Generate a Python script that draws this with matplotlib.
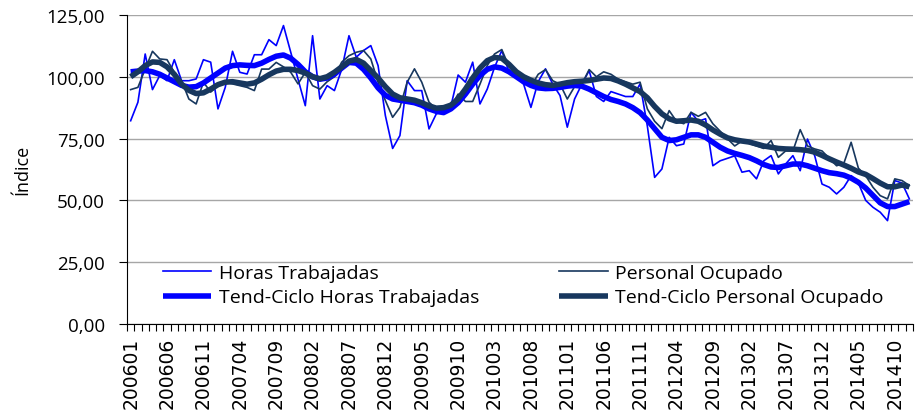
import matplotlib
matplotlib.use("Agg")
import matplotlib.pyplot as plt
from matplotlib.ticker import FixedLocator, FuncFormatter

# monthly periods 200601 .. 201412
periods = [f"{y}{m:02d}" for y in range(2006, 2015) for m in range(1, 13)]

horas = [82.2, 89.7, 109.2, 94.8, 100.5, 98.4, 106.9, 98.4, 98.4, 99.1,
         106.9, 105.9, 87.0, 95.7, 110.3, 101.8, 101.1, 108.9, 108.9, 115.0,
         112.6, 120.7, 109.9, 99.0, 88.3, 116.6, 91.0, 96.4, 94.4, 103.0,
         116.6, 107.9, 110.6, 112.6, 104.5, 84.3, 71.0, 76.2, 98.4, 94.4,
         94.4, 78.9, 85.0, 86.0, 88.0, 100.7, 97.8, 105.9, 89.0, 95.0,
         103.8, 110.6, 101.8, 100.0, 97.0, 87.6, 98.0, 103.2, 97.0, 92.4,
         79.6, 91.0, 97.0, 102.5, 92.0, 90.0, 94.0, 93.0, 92.0, 92.0,
         97.1, 80.0, 59.3, 62.7, 75.5, 72.1, 72.8, 85.6, 82.0, 83.0,
         64.0, 66.0, 67.0, 68.0, 61.4, 62.0, 58.7, 66.0, 68.1, 60.7,
         64.7, 68.1, 62.0, 74.8, 68.0, 56.6, 55.3, 52.6, 55.3, 60.0,
         57.0, 50.0, 47.2, 45.2, 41.8, 58.0, 57.0, 50.6]

personal = [94.8, 95.7, 103.1, 110.3, 107.2, 106.9, 101.8, 98.4, 91.0, 89.0,
            97.8, 93.8, 96.4, 97.8, 97.1, 96.4, 95.7, 94.4, 103.1, 103.1,
            105.8, 104.0, 101.8, 97.1, 101.8, 96.4, 95.0, 98.0, 100.0, 105.9,
            108.5, 109.9, 110.6, 107.2, 97.8, 90.4, 83.6, 87.6, 97.8, 103.2,
            97.8, 89.7, 87.0, 87.0, 88.0, 93.0, 90.0, 90.0, 97.0, 104.5,
            109.2, 111.0, 104.0, 102.0, 98.4, 96.0, 101.0, 102.9, 98.4, 97.0,
            91.0, 96.0, 97.0, 102.9, 100.0, 102.0, 101.0, 99.0, 98.0, 97.0,
            97.8, 87.0, 82.0, 79.0, 86.3, 82.0, 81.0, 85.6, 84.0, 85.6,
            81.0, 78.0, 75.0, 72.0, 74.0, 73.0, 72.0, 71.0, 74.2, 67.4,
            70.0, 70.0, 78.6, 72.0, 70.8, 70.0, 67.0, 64.0, 65.0, 73.5,
            63.0, 60.0, 55.3, 51.9, 50.6, 58.7, 58.0, 56.0]

tc_horas = [102.0, 102.3, 102.5, 102.0, 101.0, 99.5, 98.0, 96.5, 95.8, 96.0,
            97.5, 99.5, 101.5, 103.5, 104.5, 104.8, 104.6, 104.5, 105.5, 107.0,
            108.3, 108.8, 107.5, 105.0, 102.0, 100.0, 99.0, 99.5, 101.0, 103.5,
            105.8, 105.5, 103.0, 99.5, 95.5, 92.5, 91.0, 90.5, 90.0, 89.5,
            88.5, 87.0, 86.0, 85.5, 87.0, 89.5, 93.0, 97.0, 100.5, 103.0,
            104.0, 103.5, 102.0, 100.0, 98.0, 96.5, 95.5, 95.2, 95.3, 95.7,
            96.2, 96.5, 96.2, 95.0, 93.5, 92.0, 90.8, 90.0, 89.0, 87.5,
            85.5, 82.5, 79.0, 75.5, 74.2, 74.5, 75.5, 76.5, 76.5, 75.5,
            73.5, 71.5, 70.0, 69.0, 68.2, 67.3, 66.0, 64.5, 63.5, 63.3,
            64.0, 64.7, 64.7, 64.0, 63.0, 62.0, 61.2, 60.8, 60.2, 59.0,
            57.3, 55.0, 52.0, 49.0, 47.5, 47.5, 48.5, 49.5]

tc_personal = [100.0, 102.0, 104.5, 106.0, 105.8, 104.0, 101.0, 97.0, 94.5, 93.2,
               93.5, 95.0, 96.8, 97.8, 98.0, 97.5, 97.0, 97.5, 99.0, 100.8,
               102.3, 103.0, 103.0, 102.5, 101.5, 100.0, 99.2, 100.0, 101.8, 104.0,
               106.3, 107.0, 105.5, 102.5, 99.5, 96.0, 93.0, 91.5, 91.0, 90.5,
               89.5, 88.2, 87.3, 87.5, 88.5, 91.0, 95.0, 99.5, 103.5, 106.5,
               107.8, 107.5, 105.0, 102.0, 100.0, 98.6, 97.5, 96.8, 96.5, 97.0,
               97.6, 98.0, 98.2, 98.5, 99.0, 99.5, 99.3, 98.3, 97.0, 95.5,
               94.0, 91.5, 88.0, 85.0, 83.0, 82.0, 82.2, 82.5, 82.0, 80.5,
               78.5, 76.8, 75.3, 74.5, 74.0, 73.6, 72.8, 72.0, 71.5, 71.0,
               70.8, 70.7, 70.5, 70.2, 69.5, 68.2, 66.8, 65.5, 64.3, 63.0,
               61.5, 60.5, 58.8, 57.0, 55.5, 55.5, 56.2, 55.5]

BLUE = "#0000FF"
NAVY = "#17375E"

fig = plt.figure(figsize=(9.15, 4.14), dpi=100)
ax = fig.add_axes([0.1388, 0.215, 0.859, 0.7465])

x = list(range(len(periods)))
l1, = ax.plot(x, horas, color=BLUE, lw=1.2, label="Horas Trabajadas")
l2, = ax.plot(x, personal, color=NAVY, lw=1.2, label="Personal Ocupado")
l3, = ax.plot(x, tc_horas, color=BLUE, lw=4, label="Tend-Ciclo Horas Trabajadas",
              solid_capstyle="butt")
l4, = ax.plot(x, tc_personal, color=NAVY, lw=4, label="Tend-Ciclo Personal Ocupado",
              solid_capstyle="butt")

ax.set_xlim(-0.5, len(periods) - 0.5)
ax.set_ylim(0, 125)
ax.set_yticks([0, 25, 50, 75, 100, 125])
ax.yaxis.set_major_formatter(FuncFormatter(lambda v, p: f"{v:.2f}".replace(".", ",")))
ax.grid(axis="y", color="#A6A6A6", lw=1)
ax.set_axisbelow(True)

# labels every 5 months on category centres, tick marks on boundaries
label_pos = list(range(0, len(periods), 5))
ax.set_xticks(label_pos)
ax.set_xticklabels([periods[i] for i in label_pos], rotation=90,
                   fontsize=13.5, family="DejaVu Sans")
ax.xaxis.set_minor_locator(FixedLocator([i - 0.5 for i in range(len(periods) + 1)]))
ax.tick_params(axis="x", which="major", length=0, pad=9)
ax.tick_params(axis="x", which="minor", length=5, width=0.8, direction="out")
ax.tick_params(axis="y", length=6, width=0.8, labelsize=13.5, pad=10)
for lab in ax.get_yticklabels():
    lab.set_family("Open Sans")

for s in ["top", "right"]:
    ax.spines[s].set_visible(False)
ax.spines["left"].set_color("black")
ax.spines["bottom"].set_color("black")

fig.text(22 / 915, 1 - 170 / 414, "Índice", rotation=90, ha="center", va="center",
         fontsize=13, family="Open Sans")

leg = ax.legend(handles=[l1, l3, l2, l4], ncol=2, loc="lower left",
                bbox_to_anchor=(0.023, 0.0), frameon=False,
                prop={"family": "Open Sans", "size": 14},
                handlelength=2.5, handletextpad=0.4, columnspacing=4.1,
                labelspacing=0.35)

fig.savefig("out.png", dpi=100)
